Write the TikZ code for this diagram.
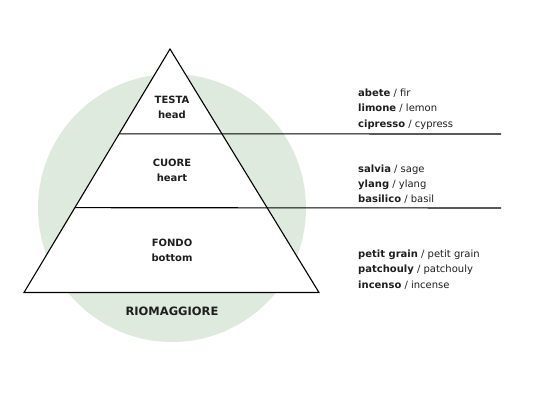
\documentclass[tikz,border=0pt]{standalone}
\usepackage{fontspec}
\setmainfont{DejaVu Sans}
\usetikzlibrary{calc}
\definecolor{circlegreen}{RGB}{222,234,222}
\definecolor{ink}{RGB}{30,30,30}
\tikzset{
  label/.style={inner sep=0pt, anchor=base, font=\fontsize{10}{12}\selectfont\bfseries, text=ink},
  note/.style={inner sep=0pt, anchor=base west, font=\fontsize{10}{12}\selectfont, text=ink},
  title/.style={inner sep=0pt, anchor=base, font=\fontsize{11.5}{13}\selectfont\bfseries, text=ink},
  rule/.style={draw=black, line width=1.1pt},
}
\begin{document}
\begin{tikzpicture}[x=1pt,y=-1pt]
\useasboundingbox (0,0) rectangle (540,400);
\fill[circlegreen] (172,208) circle (134);
\coordinate (apex) at (170,49);
\coordinate (bl) at (24,292.5);
\coordinate (br) at (319,292.5);
\fill[white] (apex) -- (bl) -- (br) -- cycle;
\coordinate (l1) at ($(apex)!0.3484!(bl)$);
\coordinate (l2) at ($(apex)!0.6516!(bl)$);
\coordinate (r1) at (501,134);
\coordinate (r2) at (501,208);
\draw[rule] (l1) -- (r1);
\draw[rule] (l2) -- (r2);
\draw[rule, line join=miter] (apex) -- (bl) -- (br) -- cycle;
\node[label] (testa) at (172,103.3) {TESTA};
\node[label] (head) at (172,118.7) {head};
\node[label] (cuore) at (172,166.7) {CUORE};
\node[label] (heart) at (172,181.7) {heart};
\node[label] (fondo) at (172,246.7) {FONDO};
\node[label] (bottom) at (172,261.7) {bottom};
\node[title] (rio) at (172,315.3) {RIOMAGGIORE};
\node[note] (n1) at (358,96) {\textbf{abete} / fir};
\node[note] (n2) at (358,111.5) {\textbf{limone} / lemon};
\node[note] (n3) at (358,127) {\textbf{cipresso} / cypress};
\node[note] (n4) at (358,172) {\textbf{salvia} / sage};
\node[note] (n5) at (358,187) {\textbf{ylang} / ylang};
\node[note] (n6) at (358,202) {\textbf{basilico} / basil};
\node[note] (n7) at (358,257) {\textbf{petit grain} / petit grain};
\node[note] (n8) at (358,272.5) {\textbf{patchouly} / patchouly};
\node[note] (n9) at (358,288) {\textbf{incenso} / incense};
\end{tikzpicture}
\end{document}
